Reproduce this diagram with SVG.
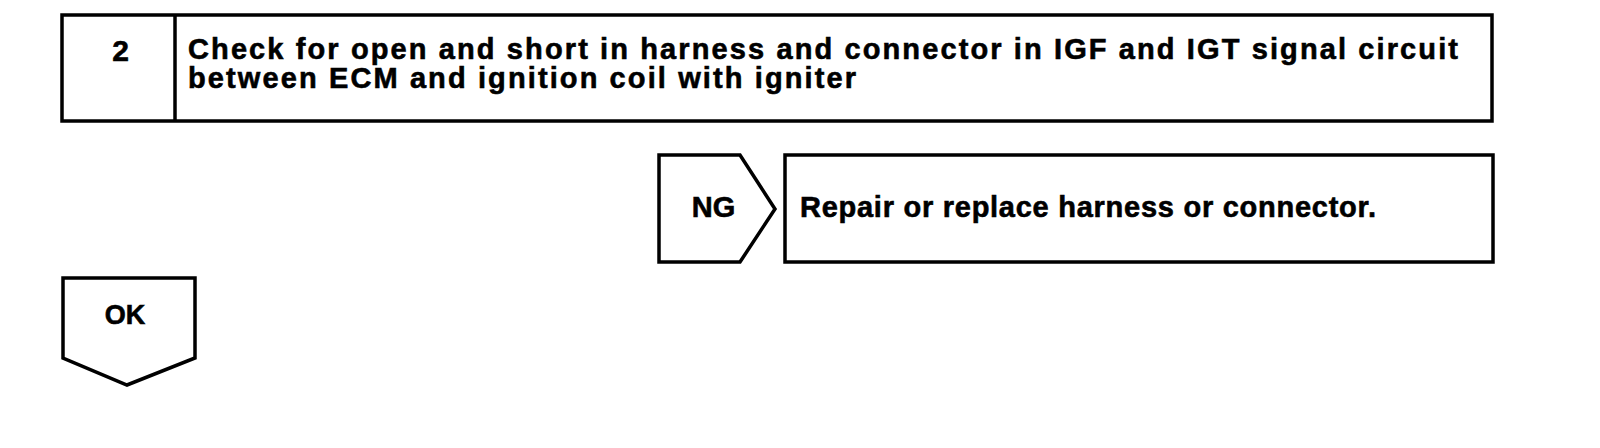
<svg xmlns="http://www.w3.org/2000/svg" width="1600" height="448" viewBox="0 0 1600 448">
<style>
  .box { fill: #ffffff; stroke: #000000; stroke-width: 3.5; stroke-linejoin: miter; }
  .ln { stroke: #000000; stroke-width: 3.5; fill: none; }
  .t { font-family: "Liberation Sans", Arial, Helvetica, sans-serif; font-weight: bold; fill: #000000; stroke: #000000; stroke-width: 0.6; }
</style>
<rect x="0" y="0" width="1600" height="448" fill="#ffffff"/>
<g id="step2">
  <rect class="box" x="62" y="15" width="1430" height="106"/>
  <line class="ln" x1="175" y1="15" x2="175" y2="121"/>
  <text class="t" x="120.5" y="61" font-size="30" text-anchor="middle">2</text>
  <text class="t" x="188" y="59" font-size="29" textLength="1270" lengthAdjust="spacing">Check for open and short in harness and connector in IGF and IGT signal circuit</text>
  <text class="t" x="188" y="88" font-size="29" textLength="668" lengthAdjust="spacing">between ECM and ignition coil with igniter</text>
</g>
<g id="ng">
  <polygon class="box" points="659,155 740,155 775,209 740,262 659,262"/>
  <text class="t" x="713.5" y="217" font-size="29" text-anchor="middle">NG</text>
</g>
<g id="repair">
  <rect class="box" x="785" y="155" width="708" height="107"/>
  <text class="t" x="800" y="217" font-size="29" textLength="576" lengthAdjust="spacing">Repair or replace harness or connector.</text>
</g>
<g id="ok">
  <polygon class="box" points="63,278 195,278 195,358 127,385 63,358"/>
  <text class="t" x="125" y="324" font-size="27" text-anchor="middle">OK</text>
</g>
<g id="connectors"></g>
</svg>
